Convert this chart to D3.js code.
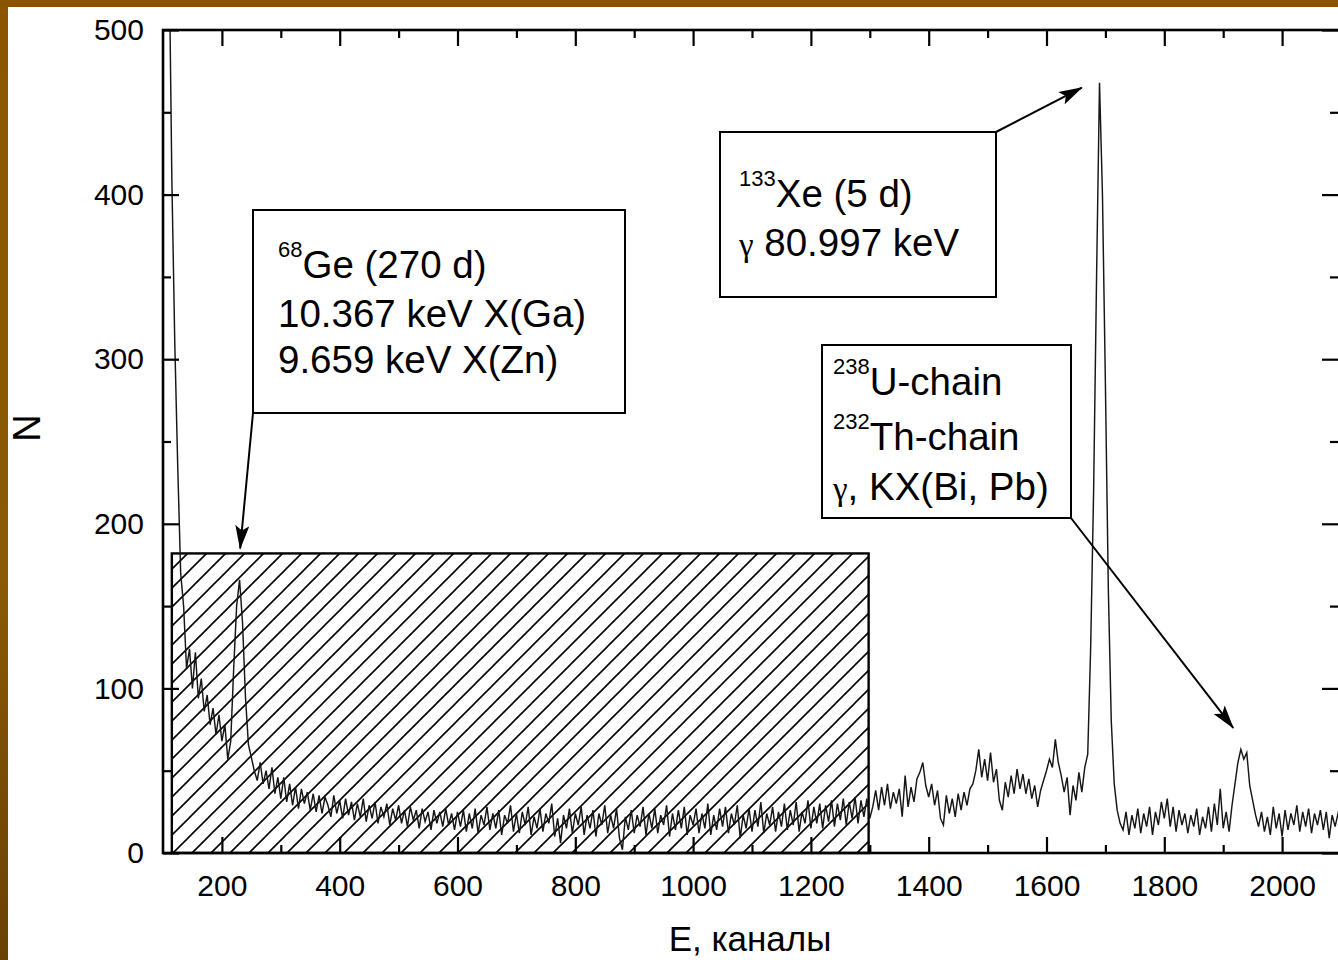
<!DOCTYPE html>
<html>
<head>
<meta charset="utf-8">
<script src="https://cdn.jsdelivr.net/npm/d3@7"></script>
<style>
  html, body { margin: 0; padding: 0; background: #fff; }
  svg { display: block; }
  text { font-family: "Liberation Sans", Arial, sans-serif; fill: #000; }
</style>
</head>
<body>
<svg id="chart" width="1338" height="960"></svg>
<script>
// Spectrum: counts per channel, sampled every 5 channels starting at channel 110
const channelStart = 110;
const channelStep = 5;

// channels 110 - 300: steep low-energy edge and the 68Ge X-ray peak
const countsLow = [560, 410, 310, 235, 170, 150, 112, 124, 100, 122,
  94, 106, 86, 96, 78, 88, 72, 84, 68, 78,
  57, 68, 112, 150, 166, 140, 95, 66, 58, 50,
  44, 55, 42, 50, 39, 52, 36, 46, 33];

// channels 305 - 600: decaying tail
const countsTail = [46, 31, 42, 29, 40, 27, 39, 30, 37, 26,
  36, 25, 35, 24, 34, 29, 22, 35, 24, 32,
  21, 33, 23, 31, 20, 30, 22, 33, 19, 29,
  21, 31, 18, 28, 22, 30, 17, 27, 20, 29,
  18, 26, 16, 28, 20, 26, 15, 27, 19, 25,
  14, 26, 18, 25, 16, 27, 17, 24, 14, 25];

// channels 605 - 1300: flat background
const countsFlat = [16, 26, 13, 24, 15, 27, 12, 23, 17, 28,
  14, 24, 15, 26, 11, 23, 18, 29, 13, 24,
  12, 25, 17, 28, 11, 22, 15, 27, 13, 24,
  18, 30, 10, 21, 6, 23, 15, 27, 12, 24,
  17, 28, 11, 23, 15, 26, 10, 24, 17, 29,
  12, 23, 15, 27, 9, 2, 22, 14, 26, 12,
  23, 16, 28, 11, 24, 15, 27, 12, 23, 17,
  29, 10, 24, 14, 26, 15, 28, 11, 23, 17,
  27, 12, 24, 15, 30, 11, 23, 14, 27, 16,
  28, 12, 24, 17, 29, 9, 23, 15, 27, 13,
  26, 16, 31, 12, 24, 17, 28, 13, 25, 16,
  30, 14, 26, 17, 31, 13, 25, 18, 32, 15,
  28, 18, 30, 15, 29, 19, 32, 16, 30, 20,
  33, 17, 31, 21, 34, 18, 32, 22, 33, 21];

// channels 1305 - 1665: background with weak lines
const countsMid = [28, 38, 26, 40, 29, 42, 27, 37, 30, 39,
  22, 47, 28, 40, 31, 45, 49, 55, 41, 34,
  42, 29, 38, 21, 17, 35, 24, 33, 22, 36,
  26, 37, 29, 39, 42, 50, 63, 46, 57, 44,
  61, 43, 51, 32, 26, 43, 34, 47, 36, 51,
  39, 48, 36, 45, 33, 41, 28, 38, 44, 50,
  57, 52, 69, 55, 47, 37, 46, 23, 41, 32,
  49, 37, 52];

// channels 1670 - 1725: 133Xe gamma line
const countsXe = [60, 125, 220, 350, 468, 400, 285, 160, 80, 42, 26, 18];

// channels 1730 - 2100: background and the U/Th chain line
const countsHigh = [14, 25, 11, 23, 15, 27, 12, 24, 16, 28,
  11, 25, 17, 31, 21, 33, 16, 28, 13, 26,
  17, 24, 12, 23, 16, 27, 11, 22, 15, 28,
  13, 30, 17, 39, 15, 25, 13, 29, 42, 55,
  63, 57, 61, 41, 32, 23, 16, 25, 13, 22,
  11, 28, 15, 24, 10, 26, 14, 24, 17, 29,
  13, 25, 16, 27, 12, 24, 17, 26, 14, 25,
  9, 23, 16, 24, 18];

// Axis ticks
const xMajorTicks = [200, 400, 600, 800, 1000, 1200, 1400, 1600, 1800, 2000];
const xMinorTicks = [300, 500, 700, 900, 1100, 1300, 1500, 1700, 1900, 2100];
const yMajorTicks = [0, 100, 200, 300, 400, 500];
const yMinorTicks = [50, 150, 250, 350, 450];

// Region of interest (hatched) in channel / count units
const roiChannels = [115, 1298];
const roiCountTop = 182;

// Annotations: arrow targets in data units
const geArrowTarget = [231, 185];
const xeArrowTarget = [1660, 465];
const uArrowTarget = [1917, 76];

const counts = [].concat(countsLow, countsTail, countsFlat, countsMid, countsXe, countsHigh);
const spectrum = counts.map((c, i) => ({ ch: channelStart + i * channelStep, n: c }));

const svg = d3.select("#chart");
const W = 1338, H = 960;
const plot = { left: 163, right: 1341, top: 30, bottom: 853 };

const x = d3.scaleLinear().domain([100, 2100]).range([plot.left, plot.right]);
const y = d3.scaleLinear().domain([0, 500]).range([plot.bottom, plot.top]);

const defs = svg.append("defs");

// slide frame gradient
const grad = defs.append("linearGradient").attr("id", "frameGrad")
  .attr("x1", 0).attr("y1", 0).attr("x2", 0).attr("y2", 1);
grad.append("stop").attr("offset", "0%").attr("stop-color", "#8c5600");
grad.append("stop").attr("offset", "60%").attr("stop-color", "#8a5a06");
grad.append("stop").attr("offset", "100%").attr("stop-color", "#6a4005");

defs.append("clipPath").attr("id", "plotClip")
  .append("rect")
  .attr("x", plot.left).attr("y", plot.top)
  .attr("width", plot.right - plot.left).attr("height", plot.bottom - plot.top);

// diagonal hatching
const hatch = defs.append("pattern").attr("id", "hatch")
  .attr("patternUnits", "userSpaceOnUse")
  .attr("width", 19).attr("height", 19);
hatch.append("path")
  .attr("d", "M-1,20 L20,-1 M-5.75,5.75 L5.75,-5.75 M13.25,24.75 L24.75,13.25")
  .attr("stroke", "#000").attr("stroke-width", 1.6).attr("fill", "none");

defs.append("marker").attr("id", "arrowHead")
  .attr("markerUnits", "userSpaceOnUse")
  .attr("viewBox", "0 0 24 14")
  .attr("markerWidth", 24).attr("markerHeight", 14)
  .attr("refX", 23).attr("refY", 7)
  .attr("orient", "auto")
  .append("path").attr("d", "M0,0 L24,7 L0,14 L5,7 Z").attr("fill", "#000");

svg.append("rect").attr("x", 0).attr("y", 0).attr("width", W).attr("height", H).attr("fill", "#fff");

// hatched region of interest
svg.append("rect")
  .attr("x", x(roiChannels[0])).attr("y", y(roiCountTop))
  .attr("width", x(roiChannels[1]) - x(roiChannels[0]))
  .attr("height", y(0) - y(roiCountTop))
  .attr("fill", "url(#hatch)")
  .attr("stroke", "#000").attr("stroke-width", 2.4);

// spectrum
const line = d3.line().x(d => x(d.ch)).y(d => y(d.n));
svg.append("path")
  .datum(spectrum)
  .attr("clip-path", "url(#plotClip)")
  .attr("d", line)
  .attr("fill", "none")
  .attr("stroke", "#161616")
  .attr("stroke-width", 1.45)
  .attr("stroke-linejoin", "miter");

// axes with inward ticks
function styleAxis(g) {
  g.select(".domain").remove();
  g.selectAll(".tick line").attr("stroke", "#000").attr("stroke-width", 2.2);
  g.selectAll(".tick text").style("font-size", "30px").style("font-family", "'Liberation Sans', Arial, sans-serif");
}

svg.append("g").attr("transform", `translate(0,${plot.bottom})`)
  .call(d3.axisBottom(x).tickValues(xMajorTicks).tickSize(-16).tickPadding(22).tickFormat(d3.format("d")))
  .call(styleAxis);
svg.append("g").attr("transform", `translate(0,${plot.bottom})`)
  .call(d3.axisBottom(x).tickValues(xMinorTicks).tickSize(-8).tickFormat(""))
  .call(styleAxis);
svg.append("g").attr("transform", `translate(0,${plot.top})`)
  .call(d3.axisTop(x).tickValues(xMajorTicks).tickSize(-16).tickFormat(""))
  .call(styleAxis);
svg.append("g").attr("transform", `translate(0,${plot.top})`)
  .call(d3.axisTop(x).tickValues(xMinorTicks).tickSize(-8).tickFormat(""))
  .call(styleAxis);

svg.append("g").attr("transform", `translate(${plot.left},0)`)
  .call(d3.axisLeft(y).tickValues(yMajorTicks).tickSize(-16).tickPadding(19).tickFormat(d3.format("d")))
  .call(styleAxis);
svg.append("g").attr("transform", `translate(${plot.left},0)`)
  .call(d3.axisLeft(y).tickValues(yMinorTicks).tickSize(-8).tickFormat(""))
  .call(styleAxis);
svg.append("g").attr("transform", `translate(${plot.right - 3},0)`)
  .call(d3.axisRight(y).tickValues(yMajorTicks).tickSize(-16).tickFormat(""))
  .call(styleAxis);
svg.append("g").attr("transform", `translate(${plot.right - 3},0)`)
  .call(d3.axisRight(y).tickValues(yMinorTicks).tickSize(-8).tickFormat(""))
  .call(styleAxis);

// plot frame
svg.append("rect")
  .attr("x", plot.left).attr("y", plot.top)
  .attr("width", plot.right - plot.left).attr("height", plot.bottom - plot.top)
  .attr("fill", "none").attr("stroke", "#000").attr("stroke-width", 2.6);

// axis titles
svg.append("text")
  .attr("x", 750).attr("y", 951)
  .attr("text-anchor", "middle")
  .style("font-size", "35px")
  .text("E, каналы");
svg.append("text")
  .attr("transform", "translate(40,428) rotate(-90)")
  .attr("text-anchor", "middle")
  .style("font-size", "38px")
  .text("N");

// annotation boxes
const geLines = [
  { sup: "68", text: "Ge (270 d)" },
  { text: "10.367 keV X(Ga)" },
  { text: "9.659 keV X(Zn)" }
];
const xeLines = [
  { sup: "133", text: "Xe (5 d)" },
  { gamma: "γ", text: " 80.997 keV" }
];
const uLines = [
  { sup: "238", text: "U-chain" },
  { sup: "232", text: "Th-chain" },
  { gamma: "γ", text: ", KX(Bi, Pb)" }
];

function drawBox(box, lines, textX, baselines, arrowFrom, arrowTo) {
  svg.append("line")
    .attr("x1", arrowFrom[0]).attr("y1", arrowFrom[1])
    .attr("x2", x(arrowTo[0])).attr("y2", y(arrowTo[1]))
    .attr("stroke", "#000").attr("stroke-width", 2)
    .attr("marker-end", "url(#arrowHead)");
  svg.append("rect")
    .attr("x", box[0]).attr("y", box[1]).attr("width", box[2]).attr("height", box[3])
    .attr("fill", "#fff").attr("stroke", "#000").attr("stroke-width", 2);
  lines.forEach((ln, i) => {
    const t = svg.append("text").attr("x", textX).attr("y", baselines[i]).style("font-size", "38.5px");
    if (ln.sup) {
      t.append("tspan").attr("dy", -21).style("font-size", "22px").text(ln.sup);
      t.append("tspan").attr("dy", 21).text(ln.text);
    } else if (ln.gamma) {
      t.append("tspan").style("font-family", "'Liberation Serif', 'Times New Roman', serif").style("font-size", "33px").text(ln.gamma);
      t.append("tspan").text(ln.text);
    } else {
      t.text(ln.text);
    }
  });
}

drawBox([253, 210, 372, 203], geLines, 278, [278, 327, 373], [253, 413], geArrowTarget);
drawBox([720, 132, 276, 165], xeLines, 739, [207, 256], [996, 132], xeArrowTarget);
drawBox([822, 345, 249, 173], uLines, 833, [395, 450, 500], [1071, 518], uArrowTarget);

// slide border
svg.append("rect").attr("x", 0).attr("y", 0).attr("width", 8).attr("height", H).attr("fill", "url(#frameGrad)");
svg.append("rect").attr("x", 0).attr("y", 0).attr("width", W).attr("height", 7).attr("fill", "#8a5400");
</script>
</body>
</html>
